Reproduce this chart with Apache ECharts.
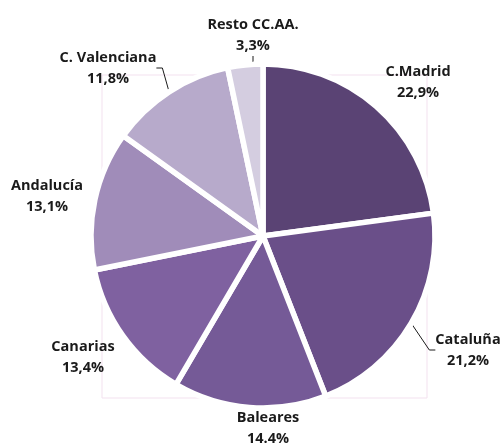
<!DOCTYPE html>
<html>
<head>
<meta charset="utf-8">
<script src="https://cdn.jsdelivr.net/npm/echarts@6/dist/echarts.min.js"></script>
<style>
  html, body { margin: 0; padding: 0; background: #fff; }
  #chart { width: 501px; height: 444px; }
</style>
</head>
<body>
<div id="chart"></div>
<script>
// data
const regions = ['C.Madrid', 'Cataluña', 'Baleares', 'Canarias', 'Andalucía', 'C. Valenciana', 'Resto CC.AA.']
const shares = [22.9, 21.2, 14.4, 13.4, 13.1, 11.8, 3.3]
const shareTexts = ['22,9%', '21,2%', '14.4%', '13,4%', '13,1%', '11,8%', '3,3%']
const colors = ['#5a4374', '#6a4f89', '#755a97', '#7f61a0', '#a08cb9', '#b7aacb', '#d4cde0']
// label placement (centre of each text block) and which ones get a leader line
const labelPos = [[418, 82], [468, 350], [268, 428], [83, 357], [47, 196], [108, 68], [253, 35]]
const withLine = [false, true, false, false, false, true, true]

const chart = echarts.init(document.getElementById('chart'))

chart.setOption({
  animation: false,
  graphic: [{
    type: 'rect',
    shape: { x: 102, y: 75, width: 325, height: 323 },
    style: { fill: 'none', stroke: '#f3e1ef', lineWidth: 1 },
    z: -1
  }],
  series: [{
    type: 'pie',
    center: [263, 236],
    radius: [0, 172],
    startAngle: 90,
    clockwise: true,
    avoidLabelOverlap: false,
    emphasis: { disabled: true },
    itemStyle: { borderColor: '#fff', borderWidth: 5.5 },
    data: regions.map((name, i) => ({
      name,
      value: shares[i],
      itemStyle: { color: colors[i] },
      label: { formatter: name + '\n' + shareTexts[i] },
      labelLine: { show: withLine[i] }
    })),
    label: {
      position: 'outside',
      fontFamily: 'Open Sans',
      fontWeight: 'bold',
      fontSize: 14.5,
      lineHeight: 21,
      color: '#1a1a1a'
    },
    labelLine: {
      length: 6,
      length2: 6,
      lineStyle: { color: '#1a1a1a', width: 1 }
    },
    labelLayout: params => {
      const p = labelPos[params.dataIndex]
      return { x: p[0], y: p[1], align: 'center', verticalAlign: 'middle' }
    }
  }]
})
</script>
</body>
</html>
